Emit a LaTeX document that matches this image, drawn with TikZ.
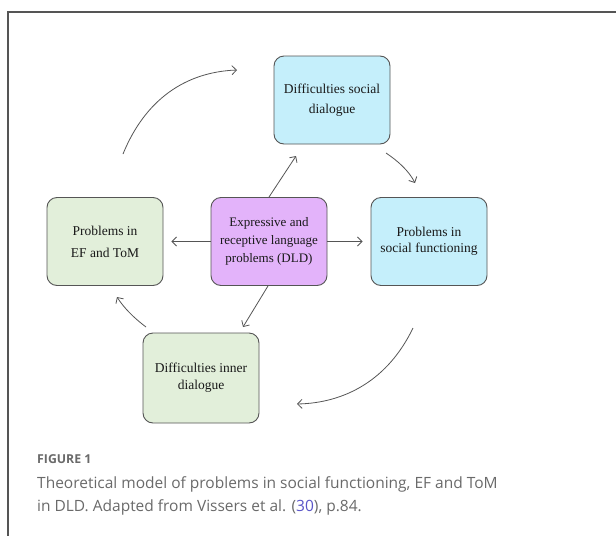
\documentclass[tikz,border=0pt]{standalone}
\usepackage{fontspec}
\setmainfont{Liberation Serif}
\newfontfamily\capfont{Open Sans}
\usetikzlibrary{arrows.meta}
\definecolor{linegray}{HTML}{555555}
\definecolor{cyanbox}{HTML}{C5EFFB}
\definecolor{greenbox}{HTML}{E2EFDA}
\definecolor{purplebox}{HTML}{E3B3FA}
\definecolor{capgray}{HTML}{6A6A6A}
\definecolor{linkblue}{HTML}{5A55C8}
\tikzset{
  box/.style={draw=linegray, line width=0.9pt, rounded corners=10pt, minimum width=116pt, minimum height=88pt, align=center, inner sep=0pt, text=black!90},
  arr/.style={draw=linegray, line width=0.8pt, -{Straight Barb[length=4.5pt,width=9pt]}},
  frame/.style={draw=linegray, line width=1.2pt},
  capstyle/.style={anchor=base west, inner sep=0pt, text=capgray}
}
\begin{document}
\begin{tikzpicture}[x=1pt,y=-1pt]
\useasboundingbox (0,0) rectangle (616,536);
\fill[white] (0,0) rectangle (616,536);
\draw[frame] (616,12) -- (8,12) -- (8,536);

\node[box, fill=cyanbox, font=\fontsize{13.5}{20}\selectfont] (top) at (332,100) {Difficulties social\\dialogue};
\node[box, fill=greenbox, font=\fontsize{13.5}{22}\selectfont] (left) at (105,241.5) {Problems in\\EF and ToM};
\node[box, fill=purplebox, font=\fontsize{13}{18}\selectfont] (center) at (269,241.5) {Expressive and\\receptive language\\problems (DLD)};
\node[box, fill=cyanbox, font=\fontsize{13.5}{16}\selectfont] (right) at (429,241.5) {Problems in\\social functioning};
\node[box, fill=greenbox, minimum height=90pt, font=\fontsize{13.5}{17}\selectfont] (bottom) at (201,378) {Difficulties inner\\dialogue};

\coordinate (c1) at (296,156);
\coordinate (c2) at (243,327);
\draw[arr] (center.north) -- (c1);
\draw[arr, shorten >=8pt] (center.west) -- (left.east);
\draw[arr, shorten >=8pt] (center.east) -- (right.west);
\draw[arr] ([xshift=-1pt]center.south) -- (c2);

\coordinate (a1s) at (123,154);
\coordinate (a1e) at (237,70);
\coordinate (a2s) at (386,153);
\coordinate (a2e) at (415,183);
\coordinate (a3s) at (413,328);
\coordinate (a3e) at (297,404);
\coordinate (a4s) at (146,327);
\coordinate (a4e) at (117,297);
\draw[arr] (a1s) .. controls (145,100) and (185,72) .. (a1e);
\draw[arr] (a2s) .. controls (398,161) and (409,171) .. (a2e);
\draw[arr] (a3s) .. controls (388,380) and (345,403) .. (a3e);
\draw[arr] (a4s) .. controls (134,318) and (124,308) .. (a4e);

\node[capstyle, font=\capfont\bfseries\fontsize{12.3}{15}\selectfont] (fig) at (37,463) {FIGURE 1};
\node[capstyle, font=\capfont\fontsize{15.5}{18}\selectfont] (cap1) at (37,488) {Theoretical model of problems in social functioning, EF and ToM};
\node[capstyle, font=\capfont\fontsize{15.5}{18}\selectfont] (cap2) at (37,511) {in DLD. Adapted from Vissers et al. (\textcolor{linkblue}{30}), p.84.};
\end{tikzpicture}
\end{document}
